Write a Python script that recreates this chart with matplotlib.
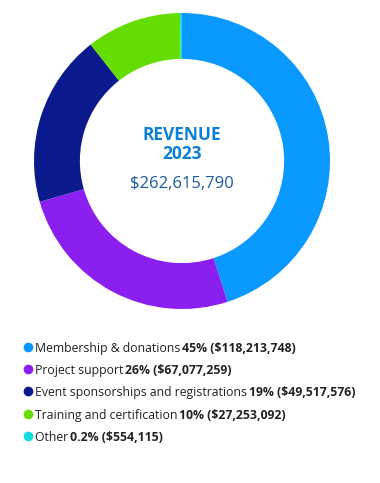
"""
Revenue 2023 donut chart.
"""

import matplotlib
matplotlib.use("Agg")
from matplotlib import pyplot as plt

labels = ["Membership & donations", "Project support",
          "Event sponsorships and registrations",
          "Training and certification", "Other"]
pcts = ["45%", "26%", "19%", "10%", "0.2%"]
amounts = [118213748, 67077259, 49517576, 27253092, 554115]
total = 262615790
colors = ["#0a99ff", "#8a1ff0", "#0a1a8c", "#66dd00", "#11dddd"]

plt.rcParams["font.family"] = ["Open Sans", "DejaVu Sans"]

W, H = 380, 483
fig = plt.figure(figsize=(W / 100, H / 100), dpi=100)

# donut
cx, cy, r = 182, 161, 148
ax = fig.add_axes([(cx - r) / W, (H - cy - r) / H, 2 * r / W, 2 * r / H])
ax.pie(amounts, colors=colors, startangle=90, counterclock=False,
       radius=1, wedgeprops=dict(width=0.31, linewidth=0))
ax.set_xlim(-1, 1)
ax.set_ylim(-1, 1)
ax.set_aspect("equal")
ax.axis("off")

ax.text(0, 0.11, "REVENUE\n2023", ha="center", va="center",
        fontsize=12.5, fontweight="bold", color="#0b7fd6", linespacing=1.1)
ax.text(0, -0.155, "${:,}".format(total), ha="center", va="center",
        fontsize=12, color="#1a5a9e")

# legend
lax = fig.add_axes([0, 0, 1, 1])
lax.set_xlim(0, W)
lax.set_ylim(H, 0)
lax.axis("off")

y0, dy = 347, 22.2
for i, (lab, p, a, c) in enumerate(zip(labels, pcts, amounts, colors)):
    y = y0 + i * dy
    lax.plot(28, y, "o", ms=7, color=c, mec="none")
    t = lax.text(35, y, lab + " ", fontsize=8.8, color="#222222",
                 va="center_baseline")
    lax.annotate("{} (${:,})".format(p, a), xy=(1, 0), xycoords=t,
                 xytext=(-1, 0), textcoords="offset points",
                 va="bottom", fontsize=8.8, fontweight="bold",
                 color="#222222")

fig.savefig("out.png", dpi=100)
